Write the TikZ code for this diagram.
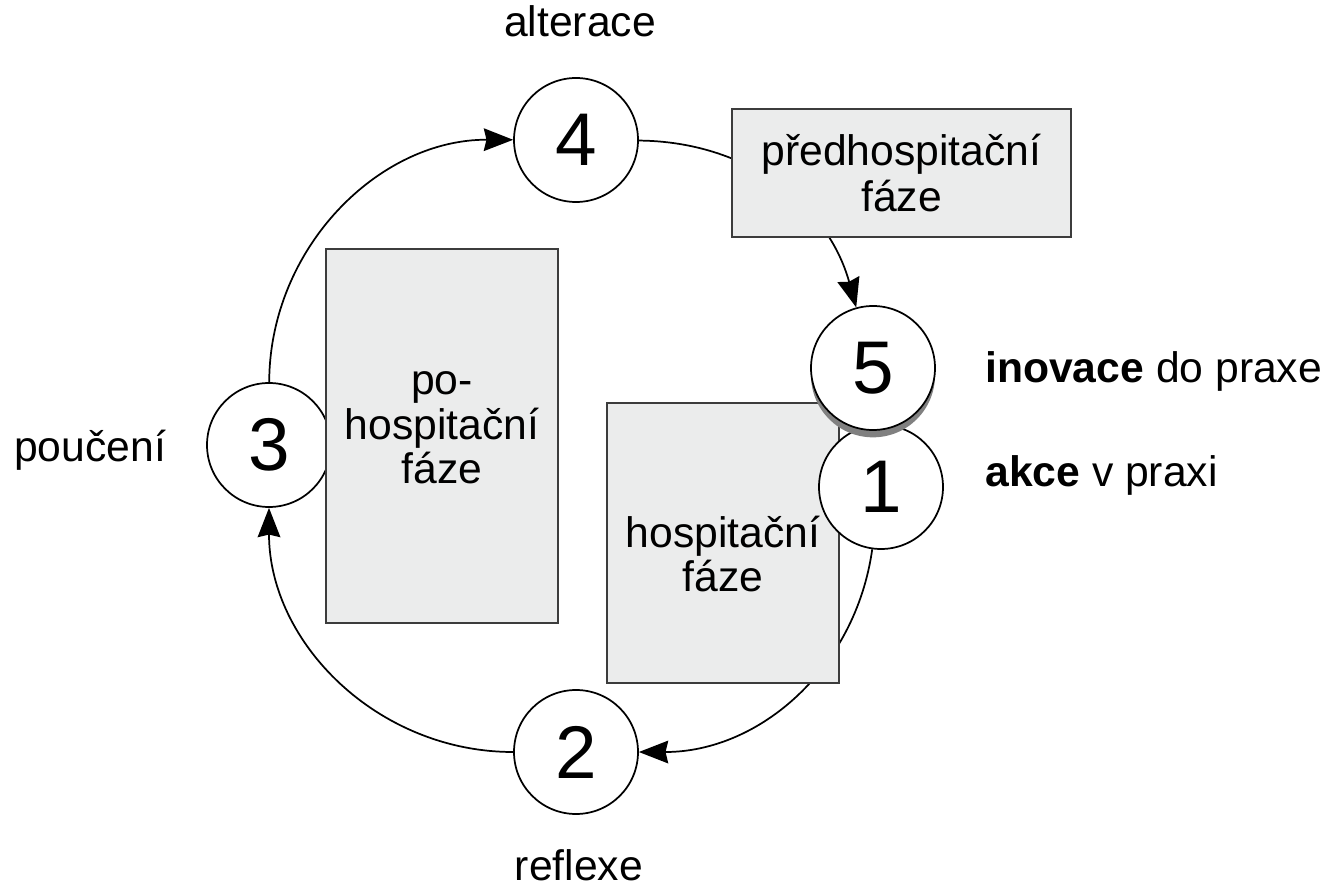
\documentclass[tikz,border=0pt]{standalone}
\usepackage{fontspec}
\setmainfont{Liberation Sans}
\usetikzlibrary{arrows.meta,shadows}
\pgfdeclarelayer{bg}
\pgfdeclarelayer{mid}
\pgfsetlayers{bg,mid,main}
\definecolor{boxfill}{HTML}{EBECEC}
\definecolor{boxline}{HTML}{3C3C3C}
\tikzset{
  num/.style={circle, draw=black, fill=white, line width=1.3pt, minimum size=93pt, inner sep=0pt, font=\fontsize{56}{56}\selectfont},
  phase/.style={rectangle, draw=boxline, fill=boxfill, line width=1.2pt, inner sep=0pt, align=center, font=\fontsize{32}{34}\selectfont},
  phasetext/.style={align=center, inner sep=0pt, font=\fontsize{32}{33.5}\selectfont},
  lbl/.style={inner sep=0pt, font=\fontsize{32}{32}\selectfont},
  conn/.style={line width=1.3pt, -{Stealth[length=22pt, width=17pt, inset=2pt]}}
}
\begin{document}
\begin{tikzpicture}[x=0.75pt, y=-0.75pt]
\useasboundingbox (0,0) rectangle (1332,887);
\begin{pgfonlayer}{mid}
  \node[num] (n3) at (269,445) {3};
  \node[phase, minimum width=174pt, minimum height=280.5pt] (po) at (442,436) {};
  \node[phasetext] (potext) at (442,428) {po-\\hospitační\\fáze};
  \node[phase, minimum width=174pt, minimum height=210pt] (hosp) at (723,543) {};
  \node[phasetext] (hosptext) at (723,554) {hospitační\\fáze};
  \node[phase, minimum width=254pt, minimum height=96pt] (pred) at (901.5,173) {předhospitační\\fáze};
\end{pgfonlayer}
\node[num] (n4) at (576,140) {4};
\node[num] (n2) at (576,752) {2};
\node[num] (n1) at (881,487) {1};
\node[num, drop shadow={shadow xshift=0pt, shadow yshift=-5.5pt, fill=black!50, opacity=1}] (n5) at (873,368) {5};
\node[lbl, anchor=base] (l4) at (580,37) {alterace};
\node[lbl, anchor=base] (l3) at (90,462) {poučení};
\node[lbl, anchor=base] (l2) at (579,880) {reflexe};
\node[lbl, anchor=base west] (l5) at (985,383) {\textbf{inovace} do praxe};
\node[lbl, anchor=base west] (l1) at (985,487) {\textbf{akce} v praxi};
\begin{pgfonlayer}{bg}
  \draw[conn] (n3) to[bend left=45] (n4);
  \draw[conn] (n4) to[bend left=37] (n5);
  \draw[conn] (n1) to[bend left=41] (n2);
  \draw[conn] (n2) to[bend left=45] (n3);
\end{pgfonlayer}
\end{tikzpicture}
\end{document}
